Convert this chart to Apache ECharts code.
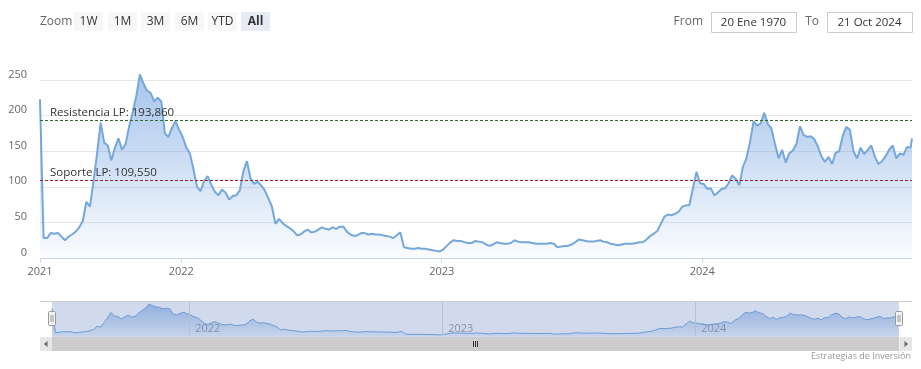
<!DOCTYPE html>
<html><head><meta charset="utf-8">
<script src="https://cdn.jsdelivr.net/npm/echarts@6/dist/echarts.min.js"></script>
<style>html,body{margin:0;padding:0;background:#fff}#c{width:921px;height:369px}</style>
</head><body><div id="c"></div>
<script>
// ---- data ----
const startDate = '2021-06-17';
const endDate = '2024-10-21';
const stepDays = 5;
const values = [
 223, 28, 28, 35, 34, 35, 30, 25, 30, 33,
 37, 43, 52, 79, 72, 108, 147, 190, 162, 158,
 137, 155, 168, 152, 160, 185, 205, 228, 258, 245,
 235, 232, 220, 225, 220, 175, 170, 183, 192, 180,
 170, 155, 147, 125, 100, 94, 108, 115, 103, 93,
 88, 96, 92, 82, 87, 88, 95, 122, 136, 112,
 104, 107, 102, 95, 84, 72, 48, 55, 49, 45,
 42, 38, 32, 33, 37, 40, 36, 37, 40, 43,
 41, 40, 43, 41, 44, 44, 37, 33, 31, 32,
 35, 35, 33, 34, 33, 33, 32, 31, 30, 28,
 32, 36, 15, 14, 13, 13, 14, 13, 13, 12,
 11, 10, 9, 12, 17, 22, 25, 24, 24, 22,
 21, 21, 24, 23, 22, 19, 17, 19, 22, 21,
 20, 20, 21, 25, 23, 22, 22, 22, 21, 20,
 20, 20, 20, 21, 20, 15, 16, 17, 17, 19,
 22, 26, 25, 24, 23, 23, 24, 25, 23, 22,
 20, 19, 18, 19, 20, 20, 20, 21, 22, 22,
 26, 31, 34, 38, 48, 58, 61, 60, 62, 65,
 72, 74, 74, 98, 121, 105, 104, 97, 98, 88,
 92, 97, 98, 105, 116, 111, 102, 128, 140, 163,
 192, 186, 189, 204, 188, 182, 160, 140, 152, 134,
 147, 151, 160, 185, 173, 170, 171, 167, 157, 143,
 135, 142, 132, 148, 150, 172, 184, 180, 150, 140,
 155, 146, 152, 158, 142, 132, 136, 143, 152, 158,
 140, 147, 145, 156, 155, 168
];
const yearTickDates = ['2021-06-17', '2022-01-01', '2023-01-01', '2024-01-01'];
const navYearDates = ['2022-01-01', '2023-01-01', '2024-01-01'];
const resistance = 193.86;
const support = 109.55;
const resistanceLabel = 'Resistencia LP: 193,860';
const supportLabel = 'Soporte LP: 109,550';
const zoomLabel = 'Zoom';
const zoomButtons = ['1W', '1M', '3M', '6M', 'YTD', 'All'];
const fromLabel = 'From', toLabel = 'To';
const fromText = '20 Ene 1970', toText = '21 Oct 2024';
const credit = 'Estrategias de Inversión';

// ---- build ----
function ts(s) { const [y, m, d] = s.split('-').map(Number); return Date.UTC(y, m - 1, d); }
const DAY = 86400000;
const seriesData = values.map((v, i) => [i === values.length - 1 ? ts(endDate) : ts(startDate) + i * stepDays * DAY, v]);
const yearTicks = yearTickDates.map(ts);
const navTicks = navYearDates.map(ts);
const FONT = 'Open Sans, DejaVu Sans, sans-serif';
const yearFmt = v => String(new Date(v).getUTCFullYear());

const chart = echarts.init(document.getElementById('c'), null, { renderer: 'canvas' });

const btnX = [74, 108, 141, 175, 208, 241];
const btnW = [29, 29, 29, 29, 29, 29];
const graphics = [];
graphics.push({ type: 'text', x: 40, y: 22, style: { text: zoomLabel, fill: '#666', font: '12px ' + FONT, verticalAlign: 'middle' } });
zoomButtons.forEach((b, i) => {
  const sel = b === 'All';
  graphics.push({ type: 'rect', shape: { x: btnX[i], y: 12, width: btnW[i], height: 19, r: 0 }, style: { fill: sel ? '#e6ebf5' : '#f7f7f7' } });
  graphics.push({ type: 'text', x: btnX[i] + btnW[i] / 2, y: 22, style: { text: b, fill: '#333', font: (sel ? 'bold ' : '') + '12px ' + FONT, align: 'center', verticalAlign: 'middle' } });
});
graphics.push({ type: 'text', x: 703, y: 22, style: { text: fromLabel, fill: '#666', font: '12px ' + FONT, align: 'right', verticalAlign: 'middle' } });
graphics.push({ type: 'rect', shape: { x: 711.5, y: 12.5, width: 85, height: 20 }, style: { fill: '#fff', stroke: '#ccc', lineWidth: 1 } });
graphics.push({ type: 'text', x: 753.5, y: 22.5, style: { text: fromText, fill: '#333', font: '11.5px ' + FONT, align: 'center', verticalAlign: 'middle' } });
graphics.push({ type: 'text', x: 819, y: 22, style: { text: toLabel, fill: '#666', font: '12px ' + FONT, align: 'right', verticalAlign: 'middle' } });
graphics.push({ type: 'rect', shape: { x: 827.5, y: 12.5, width: 85, height: 20 }, style: { fill: '#fff', stroke: '#ccc', lineWidth: 1 } });
graphics.push({ type: 'text', x: 869.5, y: 22.5, style: { text: toText, fill: '#333', font: '11.5px ' + FONT, align: 'center', verticalAlign: 'middle' } });
// navigator outline + mask
graphics.push({ type: 'line', z: 100, shape: { x1: 40, y1: 301.5, x2: 912, y2: 301.5 }, style: { stroke: '#cccccc', lineWidth: 1 } });
graphics.push({ type: 'rect', z: 100, shape: { x: 52, y: 302, width: 847, height: 35 }, style: { fill: 'rgba(102,133,194,0.3)' } });
// handles
[52, 899].forEach(hx => {
  graphics.push({ type: 'rect', z: 101, shape: { x: hx - 3.5, y: 311.5, width: 7, height: 14, r: 1 }, style: { fill: '#f2f2f2', stroke: '#999', lineWidth: 1 } });
  graphics.push({ type: 'line', z: 102, shape: { x1: hx - 1, y1: 315, x2: hx - 1, y2: 322 }, style: { stroke: '#999', lineWidth: 1 } });
  graphics.push({ type: 'line', z: 102, shape: { x1: hx + 1, y1: 315, x2: hx + 1, y2: 322 }, style: { stroke: '#999', lineWidth: 1 } });
});
// scrollbar
graphics.push({ type: 'rect', z: 100, shape: { x: 40, y: 337, width: 872, height: 14 }, style: { fill: '#f2f2f2' } });
graphics.push({ type: 'rect', z: 100, shape: { x: 52, y: 337, width: 847, height: 14 }, style: { fill: '#cccccc' } });
graphics.push({ type: 'rect', z: 100, shape: { x: 40, y: 337, width: 12, height: 14 }, style: { fill: '#e6e6e6' } });
graphics.push({ type: 'rect', z: 100, shape: { x: 900, y: 337, width: 12, height: 14 }, style: { fill: '#e6e6e6' } });
graphics.push({ type: 'polygon', z: 101, shape: { points: [[47.5, 341], [47.5, 347], [44, 344]] }, style: { fill: '#666' } });
graphics.push({ type: 'polygon', z: 101, shape: { points: [[904.5, 341], [904.5, 347], [908, 344]] }, style: { fill: '#666' } });
[473.5, 475.5, 477.5].forEach(gx => graphics.push({ type: 'line', z: 101, shape: { x1: gx, y1: 341, x2: gx, y2: 347 }, style: { stroke: '#333', lineWidth: 1 } }));
graphics.push({ type: 'text', x: 911, y: 356, style: { text: credit, fill: '#999', font: '9px ' + FONT, align: 'right', verticalAlign: 'middle' } });

const areaGrad = new echarts.graphic.LinearGradient(0, 0, 0, 1, [
  { offset: 0, color: 'rgba(95,150,220,0.8)' },
  { offset: 0.6, color: 'rgba(95,150,220,0.35)' },
  { offset: 1, color: 'rgba(95,150,220,0.04)' }
]);
const navGrad = new echarts.graphic.LinearGradient(0, 0, 0, 1, [
  { offset: 0, color: 'rgba(80,140,215,0.75)' },
  { offset: 1, color: 'rgba(80,140,215,0.12)' }
]);

chart.setOption({
  animation: false,
  textStyle: { fontFamily: FONT },
  graphic: graphics,
  grid: [
    { left: 40, right: 9, top: 80, height: 178 },
    { left: 52, right: 22, top: 302, height: 34 }
  ],
  xAxis: [
    {
      type: 'value', gridIndex: 0, min: ts(startDate), max: ts(endDate),
      axisLine: { lineStyle: { color: '#ccd6eb', width: 1 } },
      axisTick: { customValues: yearTicks, length: 5, lineStyle: { color: '#ccd6eb' } },
      axisLabel: { customValues: yearTicks, formatter: yearFmt, color: '#666', fontSize: 11, margin: 8, fontFamily: FONT },
      splitLine: { show: false }
    },
    {
      type: 'value', gridIndex: 1, min: ts(startDate), max: ts(endDate),
      axisLine: { show: false }, axisTick: { show: false },
      axisLabel: { customValues: navTicks, inside: true, formatter: yearFmt, color: '#999', fontSize: 11, margin: 2, align: 'left', padding: [0, 0, 0, 6], fontFamily: FONT },
      splitLine: { show: false }
    }
  ],
  yAxis: [
    {
      type: 'value', gridIndex: 0, min: 0, max: 250, interval: 50,
      axisLine: { show: false }, axisTick: { show: false },
      axisLabel: { color: '#666', fontSize: 11, margin: 13, verticalAlign: 'bottom', fontFamily: FONT },
      splitLine: { lineStyle: { color: '#e6e6e6', width: 1 } }
    },
    {
      type: 'value', gridIndex: 1, min: 0, max: 275, show: false, splitLine: { show: false }
    }
  ],
  series: [
    {
      type: 'line', xAxisIndex: 0, yAxisIndex: 0, data: seriesData, showSymbol: false, clip: false,
      lineStyle: { color: '#74a8dc', width: 2 }, itemStyle: { color: '#74a8dc' },
      areaStyle: { color: areaGrad },
      markLine: {
        silent: true, symbol: ['none', 'none'],
        data: [
          { yAxis: resistance, lineStyle: { color: '#2f6a2f', type: [3, 2], width: 1 },
            label: { formatter: resistanceLabel, position: 'insideStartTop', distance: [10, 1], color: '#333', fontSize: 11.5, fontFamily: FONT } },
          { yAxis: support, lineStyle: { color: '#a01f1f', type: [3, 2], width: 1 },
            label: { formatter: supportLabel, position: 'insideStartTop', distance: [10, 1], color: '#333', fontSize: 11.5, fontFamily: FONT } }
        ]
      }
    },
    {
      type: 'line', xAxisIndex: 1, yAxisIndex: 1, data: seriesData, showSymbol: false,
      lineStyle: { color: '#6fa3d9', width: 1 },
      areaStyle: { color: navGrad },
      markLine: {
        silent: true, symbol: ['none', 'none'], label: { show: false },
        lineStyle: { color: '#d8d8d8', type: 'solid', width: 1 },
        data: navTicks.map(t => ({ xAxis: t }))
      }
    }
  ]
});
</script>
</body></html>
